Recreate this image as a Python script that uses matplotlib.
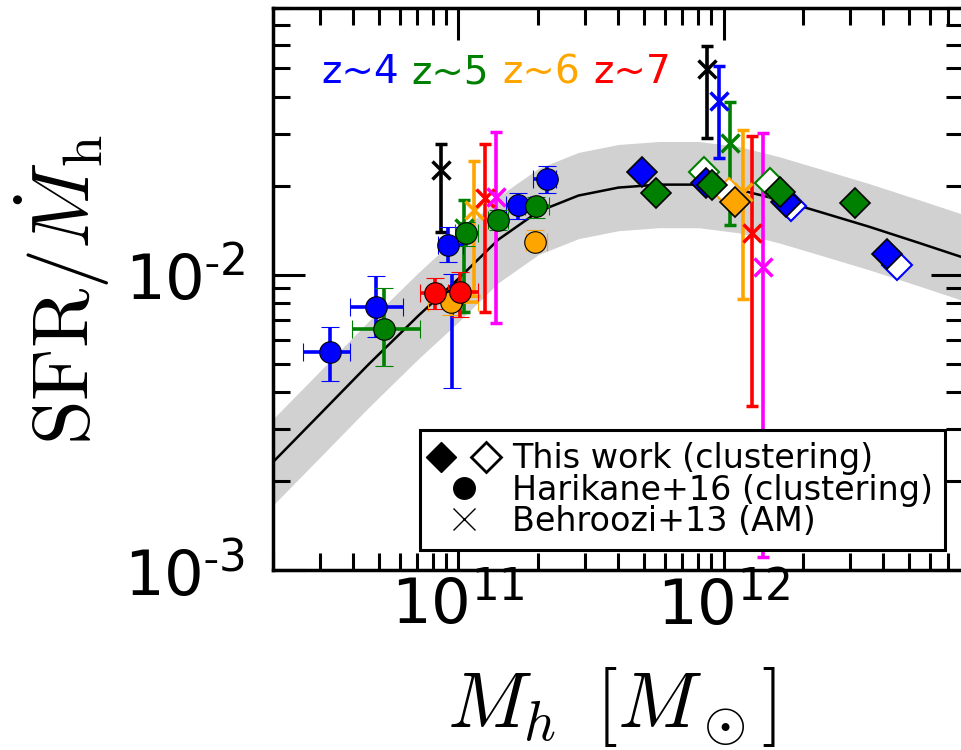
import matplotlib
matplotlib.use("Agg")
import matplotlib.pyplot as plt
import numpy as np
from matplotlib.lines import Line2D
from matplotlib.legend_handler import HandlerTuple
from matplotlib.ticker import NullFormatter

plt.rcParams["font.family"] = "DejaVu Sans"
plt.rcParams["mathtext.fontset"] = "cm"

# model curve and its scatter band (log10 Mh, log10 SFR/Mdot_h)
curve_logm = [10.294, 10.472, 10.660, 10.849, 11.000, 11.151, 11.302, 11.453, 11.604,
              11.755, 11.906, 12.057, 12.208, 12.358, 12.547, 12.736, 12.894]
curve_logy = [-2.641, -2.478, -2.305, -2.139, -2.014, -1.881, -1.786, -1.732, -1.705,
              -1.695, -1.695, -1.712, -1.746, -1.786, -1.837, -1.892, -1.939]
band_hi = [-2.495, -2.332, -2.159, -1.993, -1.868, -1.735, -1.640, -1.586, -1.559,
           -1.549, -1.549, -1.566, -1.600, -1.640, -1.691, -1.746, -1.793]
band_lo = [-2.787, -2.624, -2.451, -2.285, -2.160, -2.027, -1.932, -1.878, -1.851,
           -1.841, -1.841, -1.858, -1.892, -1.932, -1.983, -2.038, -2.085]

# Behroozi+13 (AM)
b13_m = [8.63e10, 1.054e11, 1.148e11, 1.264e11, 1.390e11,
         8.63e11, 9.58e11, 1.054e12, 1.18e12, 1.276e12, 1.403e12]
b13_y = [2.27e-2, 1.442e-2, 1.660e-2, 1.824e-2, 1.837e-2,
         4.99e-2, 3.86e-2, 2.80e-2, 1.91e-2, 1.387e-2, 1.064e-2]
b13_lo = [1.40e-2, 7.50e-3, 8.49e-3, 7.50e-3, 6.87e-3,
          2.91e-2, 2.49e-2, 1.476e-2, 8.29e-3, 3.60e-3, 1.107e-3]
b13_hi = [2.76e-2, 1.795e-2, 2.43e-2, 2.78e-2, 3.05e-2,
          5.97e-2, 5.07e-2, 3.83e-2, 3.10e-2, 2.94e-2, 3.01e-2]
b13_c = ["black", "green", "orange", "red", "magenta",
         "black", "blue", "green", "orange", "red", "magenta"]

# Harikane+16 (clustering)
h16_m = [3.29e10, 4.91e10, 9.17e10, 9.48e10, 1.683e11, 2.15e11,
         5.26e10, 1.072e11, 1.416e11, 1.968e11,
         9.42e10, 1.954e11,
         8.19e10, 1.018e11]
h16_mlo = [2.60e10, 3.91e10, 8.40e10, 9.0e10, 1.518e11, 1.92e11,
           3.98e10, 9.74e10, 1.298e11, 1.791e11,
           7.71e10, 1.806e11,
           7.19e10, 8.63e10]
h16_mhi = [3.91e10, 6.19e10, 1.04e11, 1.0e11, 1.870e11, 2.34e11,
           7.19e10, 1.19e11, 1.545e11, 2.19e11,
           1.19e11, 2.15e11,
           9.17e10, 1.19e11]
h16_y = [5.49e-3, 7.79e-3, 1.264e-2, 8.23e-3, 1.726e-2, 2.114e-2,
         6.56e-3, 1.387e-2, 1.535e-2, 1.702e-2,
         8.10e-3, 1.294e-2,
         8.69e-3, 8.75e-3]
h16_ylo = [4.37e-3, 6.17e-3, 1.107e-2, 4.14e-3, 1.549e-2, 1.897e-2,
           4.92e-3, 1.254e-2, 1.422e-2, 1.560e-2,
           7.32e-3, 1.225e-2,
           7.67e-3, 7.21e-3]
h16_yhi = [6.66e-3, 9.92e-3, 1.456e-2, 1.008e-2, 1.897e-2, 2.34e-2,
           9.03e-3, 1.513e-2, 1.660e-2, 1.837e-2,
           8.89e-3, 1.422e-2,
           9.77e-3, 1.024e-2]
h16_c = ["blue"] * 6 + ["green"] * 4 + ["orange"] * 2 + ["red"] * 2

# This work (clustering): open and filled diamonds
tw_open_m = [8.41e11, 1.045e12, 1.503e12, 1.791e12, 4.50e12]
tw_open_y = [2.22e-2, 1.897e-2, 2.05e-2, 1.702e-2, 1.081e-2]
tw_open_c = ["green", "orange", "green", "blue", "blue"]

tw_fill_m = [4.91e11, 8.56e11, 1.714e12, 4.12e12, 5.58e11, 9.01e11, 1.640e12, 3.12e12, 1.101e12]
tw_fill_y = [2.22e-2, 2.05e-2, 1.767e-2, 1.178e-2, 1.897e-2, 2.02e-2, 1.91e-2, 1.754e-2, 1.767e-2]
tw_fill_c = ["blue", "blue", "blue", "blue", "green", "green", "green", "green", "orange"]

z_labels = ["z~4", "z~5", "z~6", "z~7"]
z_colors = ["blue", "green", "orange", "red"]

fig = plt.figure(figsize=(9.62, 7.5), dpi=100)
ax = fig.add_axes([273 / 962, 180 / 750, 690 / 962, 562 / 750])
ax.set_xscale("log")
ax.set_yscale("log")

cm = 10 ** np.array(curve_logm)
ax.fill_between(cm, 10 ** np.array(band_lo), 10 ** np.array(band_hi),
                color="0.82", lw=0, zorder=1)
ax.plot(cm, 10 ** np.array(curve_logy), color="k", lw=1.8, zorder=2)

for m, y, lo, hi, c in zip(b13_m, b13_y, b13_lo, b13_hi, b13_c):
    ax.errorbar([m], [y], yerr=[[y - lo], [hi - y]], fmt="x", color=c, ms=13, mew=2.5,
                elinewidth=2.6, capsize=4.5, capthick=2.6, zorder=3)

for i in range(len(h16_m)):
    m, y = h16_m[i], h16_y[i]
    ax.errorbar([m], [y], xerr=[[m - h16_mlo[i]], [h16_mhi[i] - m]],
                yerr=[[y - h16_ylo[i]], [h16_yhi[i] - y]], fmt="o", color=h16_c[i],
                mfc=h16_c[i], mec="k", mew=0.8, ms=15.5, elinewidth=2.6,
                capsize=6.5, capthick=2.6, zorder=4)

for m, y, c in zip(tw_open_m, tw_open_y, tw_open_c):
    ax.plot([m], [y], ls="none", marker="D", ms=15.5, mfc="white", mec=c, mew=1.5, zorder=5)
for m, y, c in zip(tw_fill_m, tw_fill_y, tw_fill_c):
    ax.plot([m], [y], ls="none", marker="D", ms=15.5, mfc=c, mec="k", mew=1.2, zorder=6)

ax.set_xlim(2e10, 8e12)
ax.set_ylim(1e-3, 8e-2)

ax.set_xticks([1e11, 1e12], [r"$\mathregular{10^{11}}$", r"$\mathregular{10^{12}}$"])
ax.set_yticks([1e-3, 1e-2], [r"$\mathregular{10^{\text{-}3}}$", r"$\mathregular{10^{\text{-}2}}$"])
ax.xaxis.set_minor_formatter(NullFormatter())
ax.yaxis.set_minor_formatter(NullFormatter())
ax.tick_params(which="both", direction="in", top=True, right=True, width=2.2)
ax.tick_params(which="major", length=23, labelsize=45)
ax.tick_params(which="minor", length=12)
ax.tick_params(axis="x", which="major", pad=3)
ax.tick_params(axis="y", which="major", pad=20)
for s in ax.spines.values():
    s.set_linewidth(2.5)

zx = [323, 413, 504, 595]
for lab, c, px in zip(z_labels, z_colors, zx):
    ax.text((px - 275) / 690, (570 - 83) / 562, lab, color=c, fontsize=28,
            transform=ax.transAxes, ha="left", va="baseline")

fig.text(62 / 962, 1 - 290 / 750, r"$\mathrm{SFR}/\dot{M}_{\mathrm{h}}$", fontsize=58,
         rotation=90, ha="center", va="center")
fig.text(612 / 962, 1 - 727 / 750, r"$M_h\ \,[M_\odot]$", fontsize=57,
         ha="center", va="baseline")

h_fill = Line2D([], [], ls="none", marker="D", ms=15.5, mfc="k", mec="k")
h_open = Line2D([], [], ls="none", marker="D", ms=15.5, mfc="white", mec="k", mew=2)
h_circ = Line2D([], [], ls="none", marker="o", ms=15.5, mfc="k", mec="k")
h_x = Line2D([], [], ls="none", marker="x", ms=16.5, mec="k", mew=1)
leg = ax.legend([(h_fill, h_open), h_circ, h_x],
                ["This work (clustering)", "Harikane+16 (clustering)", "Behroozi+13 (AM)"],
                handler_map={tuple: HandlerTuple(ndivide=None, pad=0.8)},
                loc="lower right", bbox_to_anchor=(0.974, 0.0356), borderaxespad=0,
                fontsize=24, handlelength=1.9, handletextpad=0.5, labelspacing=-0.05,
                borderpad=0.36, fancybox=False, framealpha=1, edgecolor="k")
leg.get_frame().set_linewidth(2.2)
leg.set_zorder(10)

fig.savefig("out.png", dpi=100)
